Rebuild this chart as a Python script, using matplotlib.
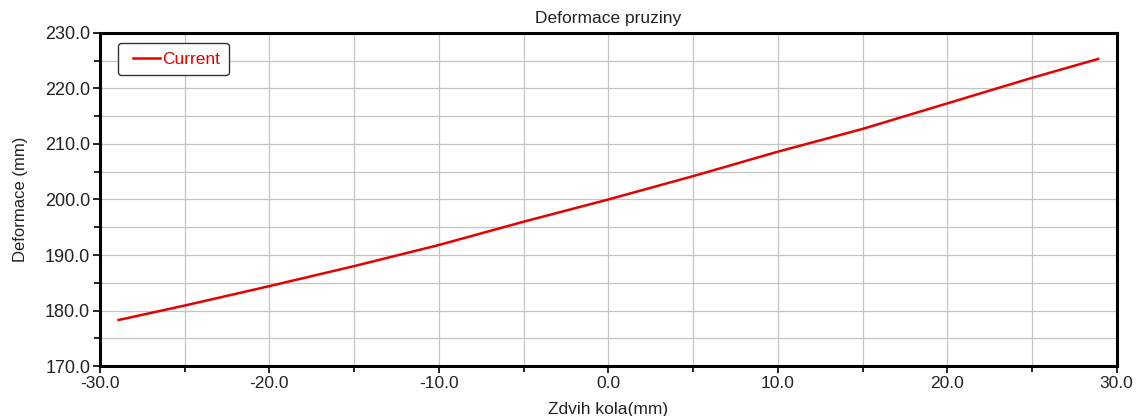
import matplotlib
matplotlib.use("Agg")
import matplotlib.pyplot as plt
from matplotlib.ticker import MultipleLocator, FormatStrFormatter
from matplotlib.legend_handler import HandlerLine2D
from matplotlib.lines import Line2D

# --- data ---
wheel_travel = [-28.9, -25.0, -20.0, -15.0, -10.0, -5.0, 0.0, 5.0, 10.0, 15.0, 20.0, 25.0, 28.9]
spring_length = [178.3, 180.9, 184.4, 188.0, 191.8, 196.0, 200.0, 204.2, 208.6, 212.7, 217.3, 221.9, 225.3]

TITLE = "Deformace pruziny"
X_LABEL = "Zdvih kola(mm)"
Y_LABEL = "Deformace (mm)"
SERIES_NAME = "Current"

plt.rcParams['font.family'] = ['Liberation Sans', 'DejaVu Sans']

fig = plt.figure(figsize=(11.36, 4.16), dpi=100)
ax = fig.add_axes([0.088, 0.120, 0.895, 0.801])

ax.plot(wheel_travel, spring_length, color='#e60000', linewidth=1.8, label=SERIES_NAME)

ax.set_xlim(-30, 30)
ax.set_ylim(170, 230)
ax.xaxis.set_major_locator(MultipleLocator(10))
ax.xaxis.set_minor_locator(MultipleLocator(5))
ax.yaxis.set_major_locator(MultipleLocator(10))
ax.yaxis.set_minor_locator(MultipleLocator(5))
ax.xaxis.set_major_formatter(FormatStrFormatter('%.1f'))
ax.yaxis.set_major_formatter(FormatStrFormatter('%.1f'))

ax.grid(True, which='both', color='#c4c4c4', linewidth=0.9)
ax.set_axisbelow(True)

for side in ax.spines.values():
    side.set_linewidth(2.2)
    side.set_color('black')

ax.tick_params(which='major', direction='out', length=5, width=1.2,
               colors='black', labelcolor='#222222', pad=2)
ax.tick_params(axis='x', which='major', labelsize=12.5)
ax.tick_params(axis='y', which='major', labelsize=13)
ax.tick_params(which='minor', direction='out', length=4, width=1.2, colors='black')

ax.set_title(TITLE, fontsize=12.5, color='#222222', pad=7)
ax.set_xlabel(X_LABEL, fontsize=12.5, color='#222222', labelpad=8)
ax.set_ylabel(Y_LABEL, fontsize=12, color='#222222', labelpad=12)

leg = ax.legend(loc='upper left', fontsize=12.5, handlelength=1.9, handletextpad=0.15,
                borderpad=0.5, borderaxespad=0, fancybox=True, framealpha=1,
                edgecolor='#333333', bbox_to_anchor=(0.0177, 0.97),
                handler_map={Line2D: HandlerLine2D(xpad=0.35)})
leg.get_frame().set_linewidth(1.0)
for txt in leg.get_texts():
    txt.set_color('#e60000')

fig.savefig("out.png", dpi=100)
